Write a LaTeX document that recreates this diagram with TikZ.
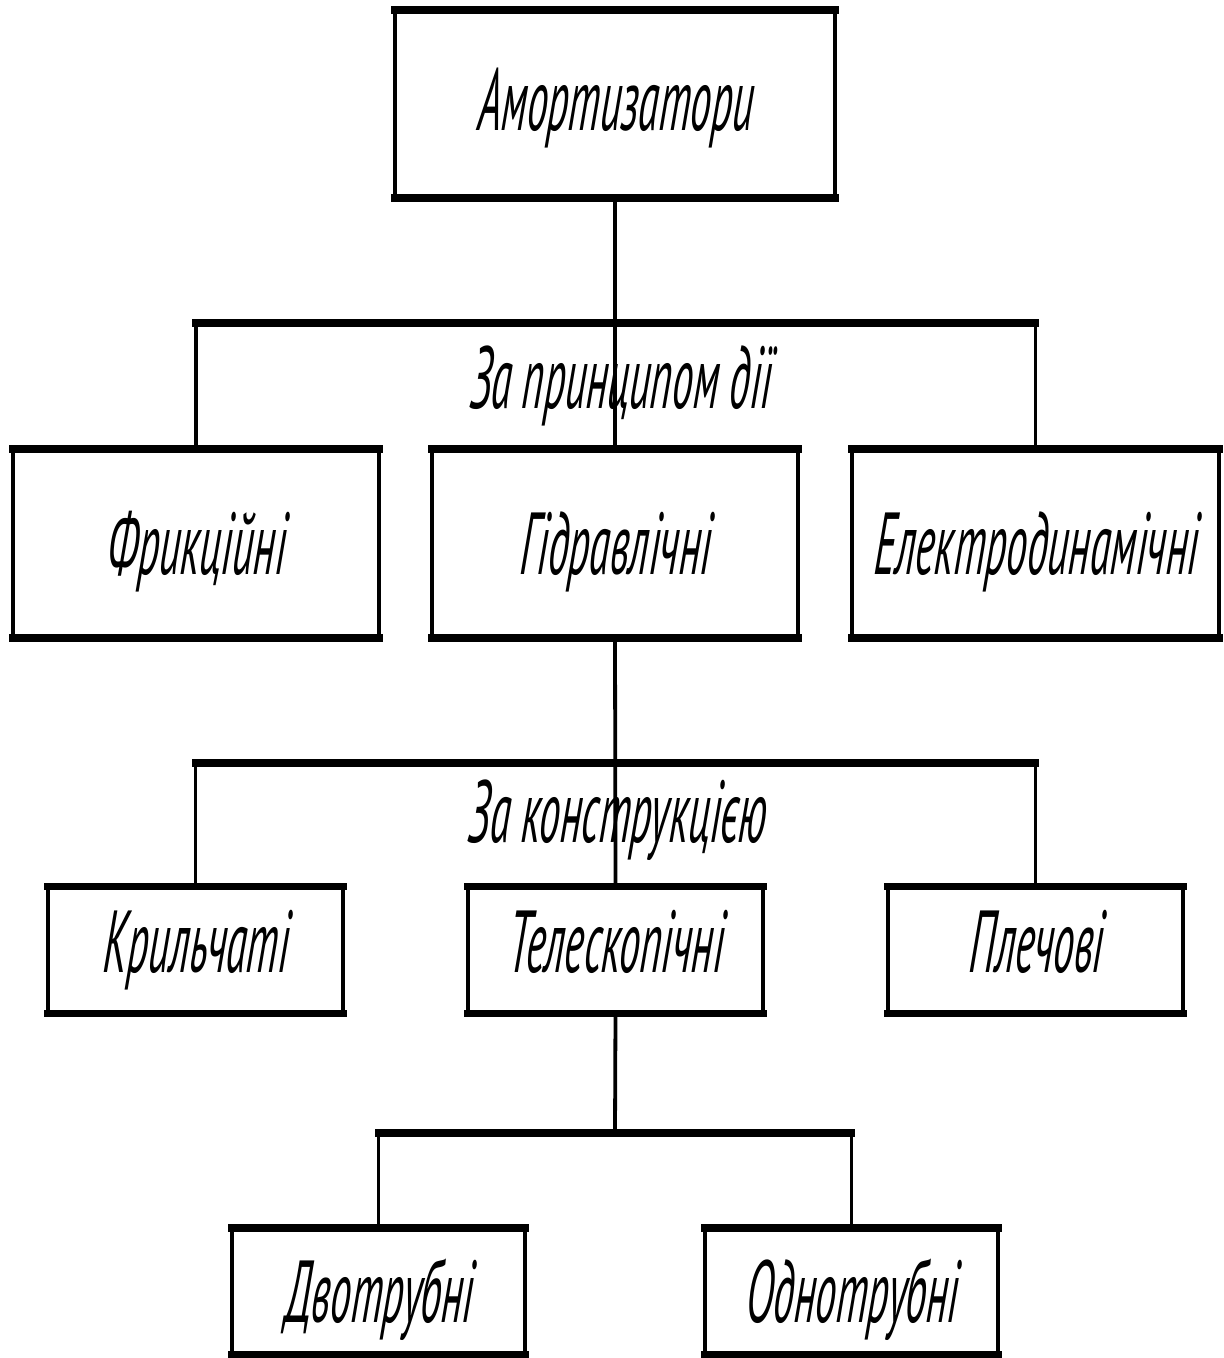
\documentclass[tikz,border=0pt]{standalone}
\usepackage{fontspec}
\newfontfamily\gostfont{PT Sans}[ItalicFeatures={FakeStretch=0.47,FakeSlant=0.07}]
\begin{document}
\begin{tikzpicture}[x=1pt,y=-1pt,
  txt/.style={font=\gostfont\itshape\fontsize{88}{90}\selectfont, inner sep=0pt},
  box/.style={draw, line width=3.8pt, inner sep=0pt, outer sep=0pt, txt, text height=62pt, text depth=0pt},
  lowbox/.style={box, text height=44pt},
  hbar/.style={line width=7.5pt, line cap=rect},
  conn/.style={line width=3.8pt},
]
\path[use as bounding box] (0,0) rectangle (1224,1358);

% level 0
\node[box, text height=52pt, minimum width=440pt, minimum height=188pt] (amo) at (615,104) {Амортизатори};
% level 1
\node[box, minimum width=366pt, minimum height=189pt] (fr)  at (196,543.5)  {Фрикційні};
\node[box, minimum width=366pt, minimum height=189pt] (gid) at (615,543.5)  {Гідравлічні};
\node[box, minimum width=367pt, minimum height=189pt] (el)  at (1035.5,543.5) {Електродинамічні};
% level 2
\node[lowbox, minimum width=295pt, minimum height=127pt] (kr)  at (195.5,950) {Крильчаті};
\node[lowbox, minimum width=295pt, minimum height=127pt] (tel) at (615.5,950) {Телескопічні};
\node[lowbox, minimum width=295pt, minimum height=127pt] (pl)  at (1035.5,950) {Плечові};
% level 3
\node[box, minimum width=293pt, minimum height=127pt] (dv) at (378.5,1291.5) {Двотрубні};
\node[box, minimum width=293pt, minimum height=127pt] (od) at (851.5,1291.5) {Однотрубні};

% thick top/bottom edges of boxes
\foreach \n in {amo,fr,gid,el,kr,tel,pl,dv,od}{
  \draw[hbar] (\n.north west) -- (\n.north east);
  \draw[hbar] (\n.south west) -- (\n.south east);
}

% junction coordinates
\coordinate (j1) at (615,323);
\coordinate (j2) at (615,763);
\coordinate (j3) at (615,1133);

% level 0 -> level 1
\draw[conn] (amo.south) -- (gid.north);
\draw[hbar] (fr.north |- j1) -- (el.north |- j1);
\draw[conn] (fr.north |- j1) -- (fr.north);
\draw[conn] (el.north |- j1) -- (el.north);
\node[txt, anchor=base] (lab1) at (620,408) {За принципом дії};

% level 1 -> level 2
\draw[conn] (gid.south) -- (tel.north);
\draw[hbar] (kr.north |- j2) -- (pl.north |- j2);
\draw[conn] (kr.north |- j2) -- (kr.north);
\draw[conn] (pl.north |- j2) -- (pl.north);
\node[txt, anchor=base] (lab2) at (617,842) {За конструкцією};

% level 2 -> level 3
\draw[conn] (tel.south) -- (j3);
\draw[hbar] (dv.north |- j3) -- (od.north |- j3);
\draw[conn] (dv.north |- j3) -- (dv.north);
\draw[conn] (od.north |- j3) -- (od.north);
\end{tikzpicture}
\end{document}
